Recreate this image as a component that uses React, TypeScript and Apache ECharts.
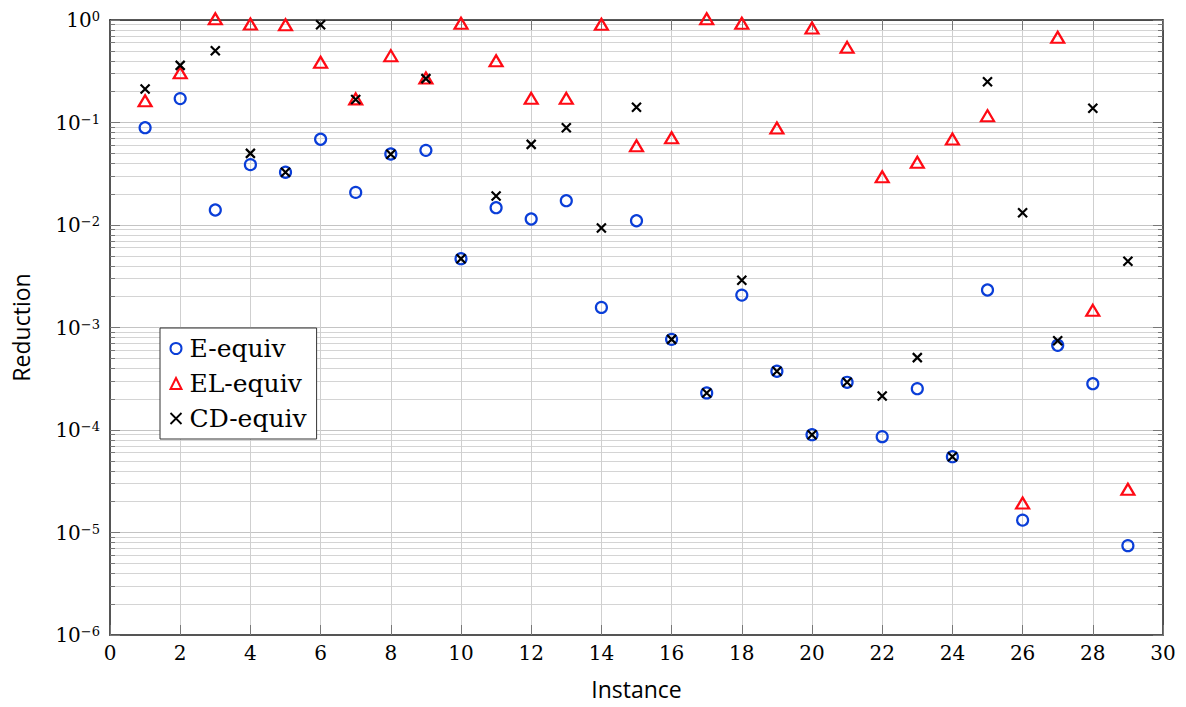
import React, { useEffect, useRef } from 'react';
import * as echarts from 'echarts';

const instances = [1, 2, 3, 4, 5, 6, 7, 8, 9, 10, 11, 12, 13, 14, 15, 16, 17, 18, 19, 20, 21, 22, 23, 24, 25, 26, 27, 28, 29];

const eEquiv = [
  0.089, 0.171, 0.014, 0.0388, 0.0327, 0.0686, 0.0208, 0.0493, 0.0535, 0.00469,
  0.01475, 0.01145, 0.01726, 0.00157, 0.011, 0.000766, 0.00023, 0.00207, 0.000374, 0.00009,
  0.000292, 0.0000861, 0.000253, 0.0000549, 0.00232, 0.0000132, 0.00067, 0.000283, 0.00000744,
];

const elEquiv = [
  0.163, 0.306, 1.03, 0.914, 0.9, 0.387, 0.17, 0.449, 0.272, 0.928,
  0.401, 0.172, 0.172, 0.908, 0.0594, 0.0711, 1.03, 0.928, 0.0884, 0.836,
  0.541, 0.0296, 0.0409, 0.069, 0.1166, 0.0000194, 0.678, 0.00147, 0.0000264,
];

const cdEquiv = [
  0.212, 0.361, 0.502, 0.05, 0.0327, 0.9, 0.168, 0.049, 0.268, 0.00469,
  0.0192, 0.0612, 0.089, 0.00935, 0.141, 0.000766, 0.00023, 0.00289, 0.000374, 0.00009,
  0.000292, 0.000215, 0.000508, 0.0000549, 0.25, 0.01318, 0.000744, 0.1375, 0.00442,
];

const seriesNames = ['E-equiv', 'EL-equiv', 'CD-equiv'];
const xMin = 0;
const xMax = 30;
const xStep = 2;
const yMin = 1e-6;
const yMax = 1;

const BLUE = '#0a3ed8';
const RED = '#ff0a14';
const BLACK = '#000000';
const CROSS = 'path://M0,0L10,10M10,0L0,10';

const SERIF = '"DejaVu Serif", serif';
const SANS = '"Open Sans", "Noto Sans", sans-serif';

function expLabel(v: number) {
  const e = Math.round(Math.log10(v));
  const s = e < 0 ? '\u2212' + Math.abs(e) : String(e);
  return `{b|10}{s|${s}}`;
}

export default function App() {
  const ref = useRef<HTMLDivElement>(null);
  useEffect(() => {
    if (!ref.current) return;
    const chart = echarts.init(ref.current, undefined, { renderer: 'svg' });
    const pts = (ys: number[]) => instances.map((x, i) => [x, ys[i]]);
    const option: any = {
      animation: false,
      backgroundColor: '#ffffff',
      grid: { left: 110, right: 23, top: 20, bottom: 72, containLabel: false },
      legend: {
        orient: 'vertical',
        left: 160,
        top: 328,
        padding: [8, 10, 8, 8],
        itemGap: 10,
        itemWidth: 11,
        itemHeight: 11,
        borderColor: '#333',
        borderWidth: 1,
        backgroundColor: '#fff',
        textStyle: { fontFamily: SERIF, fontSize: 25, color: '#000', padding: [0, 0, 0, 3] },
        data: [
          { name: seriesNames[0], icon: 'circle', itemStyle: { color: 'none', borderColor: BLUE, borderWidth: 2, opacity: 1 } },
          { name: seriesNames[1], icon: 'triangle', itemStyle: { color: 'none', borderColor: RED, borderWidth: 2, opacity: 1 } },
          { name: seriesNames[2], icon: CROSS, itemStyle: { color: 'none', borderColor: BLACK, borderWidth: 1.8, opacity: 1 } },
        ],
      },
      xAxis: [
        {
          type: 'value',
          min: xMin,
          max: xMax,
          interval: xStep,
          name: 'Instance',
          nameLocation: 'middle',
          nameGap: 42,
          nameTextStyle: { fontFamily: SANS, fontSize: 23, color: '#000' },
          axisLine: { show: true, lineStyle: { color: '#555', width: 2 } },
          axisTick: { show: true, inside: true, length: 10, lineStyle: { color: '#777', width: 1 } },
          axisLabel: { fontFamily: SERIF, fontSize: 20, color: '#000', margin: 8 },
          splitLine: { show: true, lineStyle: { color: '#cfcfcf', width: 1 } },
        },
        {
          type: 'value',
          position: 'top',
          min: xMin,
          max: xMax,
          interval: xStep,
          axisLine: { show: true, onZero: false, lineStyle: { color: '#222', width: 1.5 } },
          axisTick: { show: true, inside: true, length: 10, lineStyle: { color: '#777', width: 1 } },
          axisLabel: { show: false },
          splitLine: { show: false },
        },
      ],
      yAxis: [
        {
          type: 'log',
          logBase: 10,
          min: yMin,
          max: yMax,
          name: 'Reduction',
          nameLocation: 'middle',
          nameGap: 78,
          nameTextStyle: { fontFamily: SANS, fontSize: 23, color: '#000' },
          axisLine: { show: true, lineStyle: { color: '#555', width: 2 } },
          axisTick: { show: true, inside: true, length: 10, lineStyle: { color: '#777', width: 1 } },
          minorTick: { show: true, splitNumber: 9, length: 5, lineStyle: { color: '#777', width: 1 } },
          minorSplitLine: { show: true, lineStyle: { color: '#d4d4d4', width: 1 } },
          splitLine: { show: true, lineStyle: { color: '#c4c4c4', width: 1 } },
          axisLabel: {
            margin: 10,
            formatter: expLabel,
            rich: {
              b: { fontFamily: SERIF, fontSize: 20, color: '#000' },
              s: { fontFamily: SERIF, fontSize: 13, color: '#000', verticalAlign: 'top' },
            },
          },
        },
        {
          type: 'log',
          logBase: 10,
          min: yMin,
          max: yMax,
          position: 'right',
          axisLine: { show: true, onZero: false, lineStyle: { color: '#222', width: 1.5 } },
          axisTick: { show: true, inside: true, length: 10, lineStyle: { color: '#777', width: 1 } },
          minorTick: { show: true, splitNumber: 9, length: 5, lineStyle: { color: '#777', width: 1 } },
          splitLine: { show: false },
          axisLabel: { show: false },
        },
      ],
      series: [
        {
          name: seriesNames[0],
          type: 'scatter',
          clip: false,
          data: pts(eEquiv),
          symbol: 'circle',
          symbolSize: 11,
          itemStyle: { color: 'none', borderColor: BLUE, borderWidth: 2.2, opacity: 1 },
          z: 3,
        },
        {
          name: seriesNames[1],
          type: 'scatter',
          clip: false,
          data: pts(elEquiv),
          symbol: 'triangle',
          symbolSize: [13, 11],
          itemStyle: { color: 'none', borderColor: RED, borderWidth: 2.2, opacity: 1 },
          z: 4,
        },
        {
          name: seriesNames[2],
          type: 'scatter',
          clip: false,
          data: pts(cdEquiv),
          symbol: CROSS,
          symbolSize: 9,
          itemStyle: { color: 'none', borderColor: BLACK, borderWidth: 2.2, opacity: 1 },
          z: 5,
        },
      ],
    };
    chart.setOption(option);
    return () => chart.dispose();
  }, []);
  return <div ref={ref} style={{ position: 'absolute', left: 0, top: 0, width: 1186, height: 707 }} />;
}
